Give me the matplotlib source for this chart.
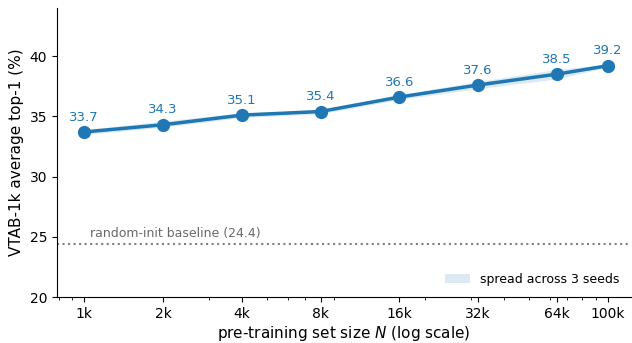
import matplotlib.pyplot as plt
import matplotlib.ticker as mticker

# pre-training set sizes and VTAB-1k scores (mean over seeds)
set_sizes = [1000, 2000, 4000, 8000, 16000, 32000, 64000, 100000]
size_labels = ['1k', '2k', '4k', '8k', '16k', '32k', '64k', '100k']
mean_top1 = [33.7, 34.3, 35.1, 35.4, 36.6, 37.6, 38.5, 39.2]
seed_min = [33.5, 34.1, 34.9, 35.2, 36.4, 37.3, 38.1, 39.1]
seed_max = [33.9, 34.6, 35.3, 35.5, 36.8, 37.9, 38.9, 39.3]
baseline = 24.4

BLUE = '#1f77b4'


def main():
    fig = plt.figure(figsize=(6.32, 3.43), dpi=100)
    ax = fig.add_axes([0.090, 0.134, 0.908, 0.843])

    ax.fill_between(set_sizes, seed_min, seed_max, color=BLUE, alpha=0.16,
                    linewidth=0, label='spread across 3 seeds')
    ax.plot(set_sizes, mean_top1, '-o', color=BLUE, linewidth=2.5,
            markersize=8.5)
    for x, y in zip(set_sizes, mean_top1):
        ax.annotate(f'{y:.1f}', (x, y), xytext=(0, 6),
                    textcoords='offset points', ha='center', va='bottom',
                    fontsize=9.5, color=BLUE)

    ax.axhline(baseline, color='gray', linestyle=':', linewidth=1.5)
    ax.text(1050, baseline + 0.35, f'random-init baseline ({baseline})',
            fontsize=9, color='dimgray', va='bottom', ha='left')

    ax.set_xscale('log')
    ax.set_xlim(786, 122500)
    ax.set_ylim(20, 44)
    ax.xaxis.set_major_locator(mticker.FixedLocator(set_sizes))
    ax.xaxis.set_major_formatter(mticker.FixedFormatter(size_labels))
    ax.set_yticks([20, 25, 30, 35, 40])
    ax.tick_params(labelsize=10)

    ax.set_xlabel('pre-training set size $N$ (log scale)', fontsize=11,
                  labelpad=2)
    ax.set_ylabel('VTAB-1k average top-1 (%)', fontsize=11)
    ax.spines['top'].set_visible(False)
    ax.spines['right'].set_visible(False)

    ax.legend(loc='lower right', frameon=False, fontsize=9)

    fig.savefig('out.png', dpi=100)


if __name__ == '__main__':
    main()
